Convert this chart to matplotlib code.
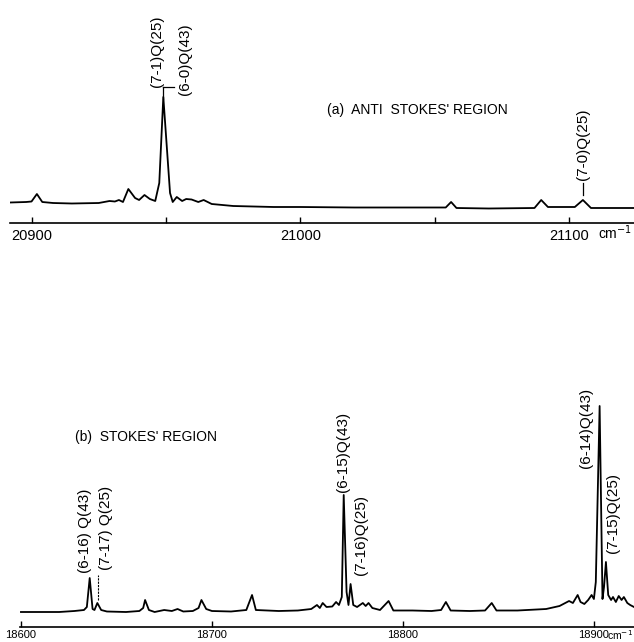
import matplotlib
matplotlib.use("Agg")
import matplotlib.pyplot as plt
from matplotlib.ticker import MultipleLocator

plt.rcParams['font.family'] = ['Liberation Sans', 'DejaVu Sans']

# (a) anti-Stokes trace (cm-1, intensity a.u.)
as_x = [20892, 20898, 20900, 20902, 20904, 20908, 20915, 20925, 20929, 20931,
        20932.5, 20934, 20936, 20938.5, 20940, 20942, 20944, 20946, 20947.5,
        20949, 20951.5, 20952.5, 20954, 20956, 20957.5, 20959.5, 20962, 20964,
        20967, 20975, 20990, 21000, 21020, 21050, 21054, 21056, 21058, 21070,
        21087, 21089.5, 21092, 21102, 21105, 21108, 21115, 21124]
as_y = [20.5, 21, 21.5, 29, 21, 20, 19.5, 20, 22, 21.5,
        23, 21, 34, 25, 23, 28, 24, 22, 40,
        126, 30, 21, 26, 22, 24, 23.5, 21, 23,
        19, 17, 16, 16, 15.5, 15.5, 15.5, 21, 15, 14.5,
        15, 23, 16, 16, 23, 15, 15, 15]

# (b) Stokes trace
st_x = [18600, 18620, 18628, 18633, 18634.5, 18636, 18637.5, 18638.5, 18640,
        18642, 18645, 18655, 18662, 18664, 18665, 18667, 18670, 18675, 18679,
        18682, 18685, 18690, 18693, 18694.5, 18697, 18700, 18710, 18718, 18721,
        18723, 18735, 18745, 18752, 18755, 18756.5, 18758, 18760, 18763, 18765,
        18766.5, 18768, 18769, 18770.5, 18771.5, 18772.6, 18774, 18776, 18779,
        18780.5, 18782, 18784, 18788, 18792.5, 18795, 18805, 18815, 18820,
        18822.5, 18825, 18835, 18843, 18846.5, 18849, 18860, 18875, 18882,
        18885, 18887, 18889, 18891.5, 18893, 18895, 18897, 18898.8, 18900,
        18901, 18903, 18904.5, 18905.3, 18906.3, 18907.5, 18909, 18910,
        18911.5, 18913, 18914.5, 18915.7, 18917.5, 18919, 18921]
st_y = [15, 15, 16, 17, 20, 49, 18, 17, 24,
        17, 15.5, 15, 16, 19, 27, 17, 15, 17, 16,
        18, 15.5, 16, 19, 27, 18, 16, 15.5, 17, 32,
        17, 16, 16.5, 18, 22, 19, 24, 20, 20.5, 25,
        22, 30, 132, 35, 22, 43, 22, 20, 24,
        21, 24, 19, 17, 26, 16.5, 16.5, 16, 17,
        25, 16.5, 16, 16.5, 24, 16.5, 16.5, 18, 21,
        24, 26, 24, 32, 25, 23, 27, 32, 28,
        45, 221, 28, 40, 65, 32, 27, 30,
        25, 31, 27, 30, 24, 22, 20]

# line labels: (text, x, y of bottom end)
as_labels = [("(7-1)Q(25)", 20946.8, 136), ("(6-0)Q(43)", 20956.9, 128),
             ("(7-0)Q(25)", 21105.2, 43)]
st_labels = [("(6-16) Q(43)", 18633.5, 54), ("(7-17) Q(25)", 18644.5, 57),
             ("(6-15)Q(43)", 18768.6, 135), ("(7-16)Q(25)", 18778.0, 52),
             ("(6-14)Q(43)", 18895.8, 159), ("(7-15)Q(25)", 18910.0, 74)]

W, H = 634, 642
fig = plt.figure(figsize=(W / 100, H / 100), dpi=100)

def setup(ax, xlim, ylim, major, minor, lsize, pad):
    ax.set_xlim(*xlim)
    ax.set_ylim(*ylim)
    for s in ["top", "left", "right"]:
        ax.spines[s].set_visible(False)
    ax.spines["bottom"].set_linewidth(1.2)
    ax.set_yticks([])
    ax.xaxis.set_major_locator(MultipleLocator(major))
    if minor:
        ax.xaxis.set_minor_locator(MultipleLocator(minor))
    ax.tick_params(axis="x", which="both", direction="in", length=4,
                   width=1, labelsize=lsize, pad=pad)
    ax.patch.set_alpha(0)

# ---- (a) anti-Stokes
ax1 = fig.add_axes([10 / W, (H - 223) / H, 624 / W, 223 / H])
setup(ax1, (20892, 21124), (0, 223), 100, 50, 10.5, 4)
ax1.plot(as_x, as_y, color="k", lw=1.3)
for t, x, y in as_labels:
    ax1.text(x, y, t, rotation=90, ha="center", va="bottom", fontsize=11)
ax1.plot([20949, 20949], [124, 136], color="k", lw=0.9)
ax1.plot([20949, 20953], [136, 136], color="k", lw=0.9)
ax1.plot([21105, 21105], [28, 40], color="k", lw=0.9)
ax1.text(21010, 113, "(a)  ANTI  STOKES' REGION", fontsize=10, va="center")
ax1.text(0.997, -10 / 223, "cm$^{-1}$", fontsize=10, ha="right", va="center",
         transform=ax1.transAxes, clip_on=False)

# ---- (b) Stokes
ax2 = fig.add_axes([20 / W, 15 / H, 614 / W, 297 / H])
setup(ax2, (18599.5, 18921), (0, 297), 100, None, 8, 2)
ax2.plot(st_x, st_y, color="k", lw=1.3)
for t, x, y in st_labels:
    ax2.text(x, y, t, rotation=90, ha="center", va="bottom", fontsize=11)
ax2.plot([18640.3, 18640.3], [27, 52], color="k", lw=0.8, ls=(0, (2, 1)))
ax2.text(18628.3, 190, "(b)  STOKES' REGION", fontsize=10, va="center")
ax2.text(0.999, -8 / 297, "cm$^{-1}$", fontsize=7.5, ha="right", va="center",
         transform=ax2.transAxes, clip_on=False)

fig.savefig("out.png", dpi=100)
